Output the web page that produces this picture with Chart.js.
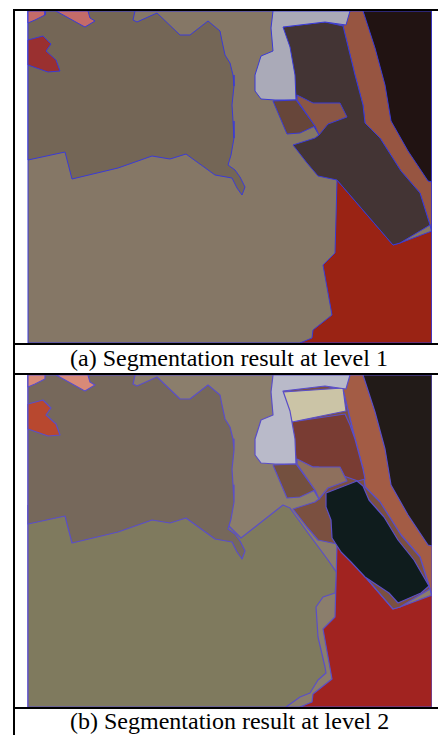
<!DOCTYPE html>
<html>
<head>
<meta charset="utf-8">
<script src="https://cdn.jsdelivr.net/npm/chart.js@4.4.0/dist/chart.umd.min.js"></script>
<style>
  html, body { margin: 0; padding: 0; background: #fff; }
  body { width: 438px; height: 735px; position: relative; overflow: hidden; }
  .rule { position: absolute; background: #000; }
  .panel { position: absolute; left: 27px; }
  .caption {
    position: absolute; left: 70px; white-space: nowrap;
    font-family: 'Liberation Serif', 'Times New Roman', serif;
    font-size: 24px; line-height: 24px; color: #000;
  }
</style>
</head>
<body>
  <div class="rule" style="left:13px; top:9px;   width:425px; height:2px"></div>
  <div class="rule" style="left:13px; top:9px;   width:2px;   height:726px"></div>
  <div class="rule" style="left:13px; top:343px; width:425px; height:2px"></div>
  <div class="rule" style="left:13px; top:373px; width:425px; height:2px"></div>
  <div class="rule" style="left:13px; top:707px; width:425px; height:2px"></div>

  <canvas id="level1" class="panel" width="405" height="332" style="top:11px"></canvas>
  <div class="caption" style="top:346px">(a) Segmentation result at level 1</div>

  <canvas id="level2" class="panel" width="405" height="332" style="top:375px"></canvas>
  <div class="caption" style="top:709px">(b) Segmentation result at level 2</div>

<script>
// region outlines in image pixels (x right, y down), image is 404 x 332
const frame      = [[0,0],[404,0],[404,332],[0,332]];
const upperLeft  = [[0,0],[107,0],[105,9],[109,11],[129,2],[152,24],[162,24],[180,10],[192,20],[194,30],[197,44],[202,52],[205,64],[206,75],[204,94],[205,110],[206,127],[203,144],[200,154],[207,159],[212,166],[217,176],[214,184],[209,177],[204,167],[187,164],[158,143],[142,148],[124,145],[90,157],[44,168],[37,141],[0,149]];
const pinkCorner = [[0,0],[17,0],[17,4],[7,9],[0,12]];
const pinkStrip  = [[28,0],[60,0],[62,7],[67,10],[57,16],[55,15]];
const redBlob    = [[0,29],[15,25],[23,33],[18,40],[28,49],[32,60],[20,61],[0,54]];
const lavender   = [[245,0],[322,0],[318,14],[297,11],[255,16],[262,36],[267,64],[268,89],[247,89],[233,88],[227,80],[227,64],[233,45],[245,40],[243,17]];
const coastStrip = [[320,0],[404,0],[404,222],[402,214],[392,182],[373,160],[352,127],[337,112],[335,94],[327,64],[315,15]];
const sea        = [[335,0],[404,0],[404,171],[400,170],[380,140],[363,110],[357,74],[347,37]];
const redZone    = [[309,169],[365,234],[372,232],[404,220],[404,332],[272,332],[284,327],[285,319],[304,304],[295,254],[307,242],[308,207]];
const darkBand   = [[255,16],[297,11],[315,15],[327,64],[335,94],[337,112],[352,127],[373,160],[392,182],[402,214],[372,232],[365,234],[309,169],[290,165],[279,152],[265,134],[287,127],[291,124],[268,86],[265,60]];
const brownQuadA = [[245,90],[268,89],[287,115],[272,122],[259,123]];
const brownQuadB = [[269,84],[285,92],[312,92],[319,106],[300,113],[291,124],[287,115],[269,89]];
// new regions at level 2
const olive      = [[0,130],[150,130],[200,150],[213,163],[255,130],[262,133],[280,158],[300,185],[309,198],[307,218],[295,222],[288,232],[290,262],[297,292],[298,298],[290,305],[282,318],[272,322],[258,332],[0,332]];
const cream      = [[255,17],[315,13],[318,36],[264,47]];
const maroon     = [[263,47],[317,39],[322,50],[327,64],[335,94],[337,104],[330,106],[290,92],[272,92],[268,84]];
const blackPatch = [[298,118],[329,106],[335,111],[341,125],[356,142],[370,165],[386,185],[401,211],[393,218],[370,228],[361,218],[337,202],[323,187],[313,177],[304,163],[303,145],[298,132]];

// bottom to top
const level1 = [
  [frame,      '#857766'],
  [coastStrip, '#975541'],
  [sea,        '#211312'],
  [redZone,    '#9a2314'],
  [darkBand,   '#433434'],
  [lavender,   '#aaaab8'],
  [brownQuadA, '#67463a'],
  [brownQuadB, '#8a5645'],
  [upperLeft,  '#746656'],
  [pinkCorner, '#c36b69'],
  [pinkStrip,  '#c36b69'],
  [redBlob,    '#9a3030'],
];
const level2 = [
  [frame,      '#8b7e6c'],
  [olive,      '#7f7a5e'],
  [coastStrip, '#a35c45'],
  [sea,        '#221b18'],
  [redZone,    '#a12320'],
  [darkBand,   '#7b5040'],
  [maroon,     '#793c33'],
  [cream,      '#cbc4a6'],
  [lavender,   '#b9bac9'],
  [brownQuadA, '#74503f'],
  [brownQuadB, '#8e705d'],
  [blackPatch, '#0f1c1d'],
  [upperLeft,  '#76685b'],
  [pinkCorner, '#d88a78'],
  [pinkStrip,  '#d88a78'],
  [redBlob,    '#b8482f'],
];

function poly(pts, color, stroke, width) {
  return {
    data: pts.concat([pts[0]]),
    showLine: true, fill: 'shape', backgroundColor: color,
    borderColor: stroke, borderWidth: width, borderJoinStyle: 'round',
    pointRadius: 0, tension: 0
  };
}

function drawPanel(id, layers, stroke, width) {
  new Chart(document.getElementById(id), {
    type: 'scatter',
    // chart.js paints dataset 0 last, so flip the bottom-to-top list
    data: { datasets: layers.map(l => poly(l[0], l[1], stroke, width)).reverse() },
    options: {
      responsive: false, animation: false, events: [],
      layout: { padding: 0 },
      plugins: {
        legend: { display: false },
        tooltip: { enabled: false },
        filler: { drawTime: 'beforeDatasetDraw' }
      },
      scales: {
        x: { type: 'linear', min: -1, max: 404, display: false },
        y: { type: 'linear', min: 0, max: 332, reverse: true, display: false }
      }
    }
  });
}

drawPanel('level1', level1, '#3a3ad6', 1);
drawPanel('level2', level2, '#5a4ec8', 1.2);
</script>
</body>
</html>
